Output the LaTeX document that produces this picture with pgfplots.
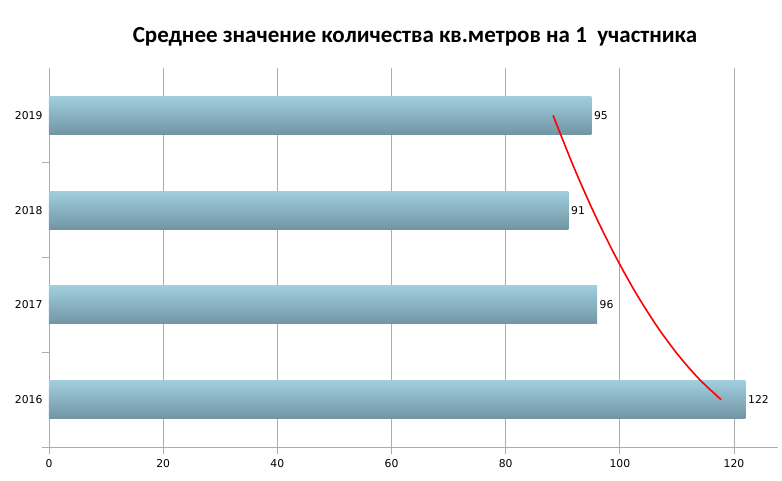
\documentclass[border=0pt]{standalone}
\usepackage{fontspec}
\setmainfont{DejaVu Sans}
\newfontfamily\titlefont{Carlito}
\usepackage{pgfplots}
\pgfplotsset{compat=1.18}
\definecolor{bartop}{RGB}{160,206,222}
\definecolor{barbot}{RGB}{114,149,164}
\definecolor{gridc}{RGB}{172,172,172}
\begin{document}
\begin{tikzpicture}
\useasboundingbox (-49pt,-34pt) rectangle (733pt,447pt);
\begin{axis}[
  at={(0pt,0pt)}, anchor=south west,
  scale only axis, width=729pt, height=379pt,
  xmin=0, xmax=127.7, ymin=-0.5, ymax=3.5,
  axis x line*=bottom, axis y line*=left,
  axis line style={gridc, line width=0.9pt, -},
  xtick={0,20,...,120},
  xmajorgrids, major grid style={gridc, line width=0.9pt},
  tick align=outside, major tick length=7pt,
  tick style={gridc, line width=0.9pt},
  ytick={-0.5,0.5,1.5,2.5}, yticklabels={},
  extra y ticks={0,1,2,3},
  extra y tick labels={2016,2017,2018,2019},
  extra y tick style={major tick length=0pt, tick style={draw=none}},
  ticklabel style={font=\fontsize{10.8}{13}\selectfont, text=black},
  /pgf/number format/assume math mode=true,
  yticklabel style={xshift=-3pt},
  xticklabel style={yshift=-2pt},
  clip=false,
  barstyle/.style={xbar, bar width=0.4, bar shift=0pt, draw=none,
    top color=bartop, bottom color=barbot,
    nodes near coords, nodes near coords align=horizontal,
    every node near coord/.style={font=\fontsize{10.8}{13}\selectfont, anchor=west, black, inner sep=2.5pt}},
]
\addplot[barstyle] coordinates {(122,0)};
\addplot[barstyle] coordinates {(96,1)};
\addplot[barstyle] coordinates {(91,2)};
\addplot[barstyle] coordinates {(95,3)};
\addplot[red, line width=1.6pt, smooth] coordinates {
  (88.30,3.0) (91.85,2.465) (95.43,1.976) (99.06,1.532) (102.72,1.134)
  (106.41,0.782) (110.14,0.476) (113.92,0.215) (117.73,0.0)};
\end{axis}
\node[font=\titlefont\bfseries\fontsize{23}{26}\selectfont] at (366pt,410pt)
  {Среднее значение количества кв.метров на 1\ \ участника};
\end{tikzpicture}
\end{document}
